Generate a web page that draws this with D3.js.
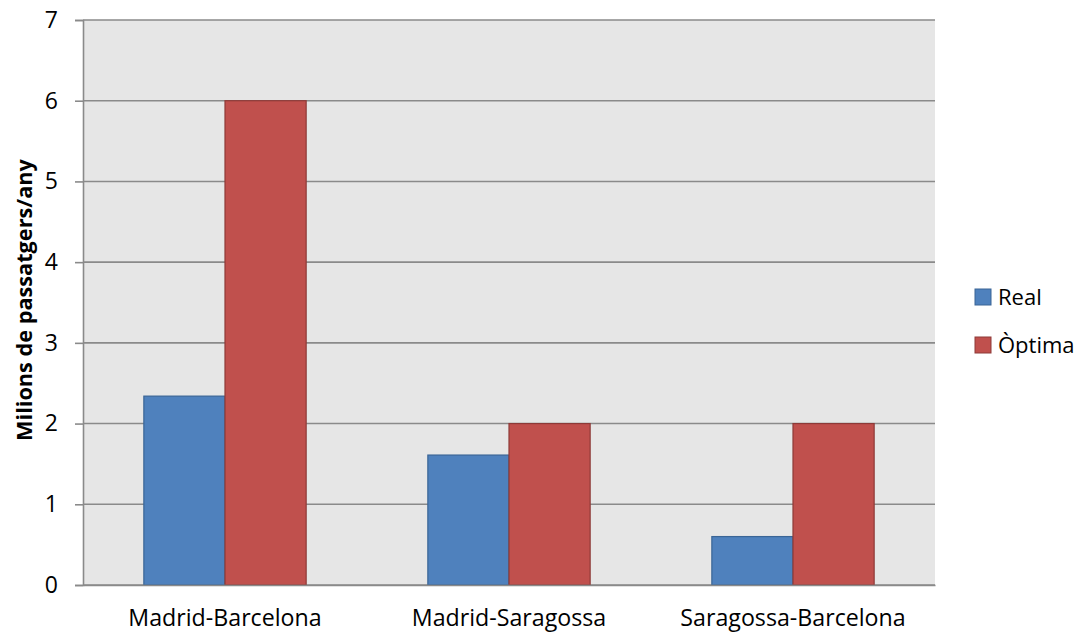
<!DOCTYPE html>
<html>
<head>
<meta charset="utf-8">
<script src="https://cdn.jsdelivr.net/npm/d3@7"></script>
<style>
  html, body { margin: 0; padding: 0; background: #ffffff; }
  svg { display: block; font-family: "Open Sans", "Liberation Sans", sans-serif; }
</style>
</head>
<body>
<svg id="chart" width="1081" height="634"></svg>
<script>
// Passenger volumes per route (millions per year)
const categories = ["Madrid-Barcelona", "Madrid-Saragossa", "Saragossa-Barcelona"];
const seriesNames = ["Real", "Òptima"];
const realValues = [2.34, 1.61, 0.6];
const optimaValues = [6, 2, 2];
const yTicks = [0, 1, 2, 3, 4, 5, 6, 7];
const yTitle = "Milions de passatgers/any";

const colors = { "Real": "#4f81bd", "Òptima": "#c0504d" };
const strokes = { "Real": "#3a6596", "Òptima": "#8e3a38" };
const FONT = "Open Sans, sans-serif";

const svg = d3.select("#chart");
const margin = { left: 83, right: 146, top: 20, bottom: 49 };
const width = 1081 - margin.left - margin.right;
const height = 634 - margin.top - margin.bottom;

const g = svg.append("g").attr("transform", `translate(${margin.left},${margin.top})`);

const x = d3.scaleBand().domain(categories).range([0, width]).paddingInner(0).paddingOuter(0);
// gap between groups is 150% of one bar width
const inner = d3.scaleBand().domain(seriesNames).range([0, x.bandwidth()]).paddingOuter(0.75).paddingInner(0);
const y = d3.scaleLinear().domain([0, 7]).range([height, 0]);

// plot background
g.append("rect").attr("x", 0).attr("y", 0).attr("width", width).attr("height", height).attr("fill", "#e6e6e6");

// horizontal gridlines
g.append("g").selectAll("line").data(yTicks).join("line")
  .attr("x1", 0).attr("x2", width)
  .attr("y1", d => y(d)).attr("y2", d => y(d))
  .attr("stroke", "#8a8a8a").attr("stroke-width", 1.6);

// bars
const data = categories.map((c, i) => ({ cat: c, values: [
  { name: "Real", value: realValues[i] },
  { name: "Òptima", value: optimaValues[i] }
]}));

const groups = g.append("g").selectAll("g").data(data).join("g")
  .attr("transform", d => `translate(${x(d.cat)},0)`);
groups.selectAll("rect").data(d => d.values).join("rect")
  .attr("x", d => inner(d.name))
  .attr("y", d => y(d.value))
  .attr("width", inner.bandwidth())
  .attr("height", d => y(0) - y(d.value))
  .attr("fill", d => colors[d.name])
  .attr("stroke", d => strokes[d.name])
  .attr("stroke-width", 1.2);

// y axis
const yAxis = d3.axisLeft(y).tickValues(yTicks).tickSize(8).tickPadding(17).tickFormat(d3.format("d"));
const ya = g.append("g").call(yAxis);
ya.select(".domain").attr("stroke", "#8a8a8a").attr("stroke-width", 1.6);
ya.selectAll(".tick line").attr("stroke", "#8a8a8a").attr("stroke-width", 1.6);
ya.selectAll(".tick text").attr("font-size", 23).attr("fill", "#000").attr("font-family", FONT);

// x axis labels
const xAxis = d3.axisBottom(x).tickSize(0).tickPadding(25);
const xa = g.append("g").attr("transform", `translate(0,${height})`).call(xAxis);
xa.select(".domain").attr("stroke", "#8a8a8a").attr("stroke-width", 1.6);
xa.selectAll(".tick text").attr("font-size", 23.2).attr("fill", "#000").attr("font-family", FONT);

// y axis title
svg.append("text")
  .attr("transform", `translate(32,300) rotate(-90)`)
  .attr("text-anchor", "middle")
  .attr("font-size", 21.7).attr("font-weight", "bold")
  .attr("font-family", FONT)
  .text(yTitle);

// legend
const legend = svg.append("g").attr("transform", "translate(975,289)");
const li = legend.selectAll("g").data(seriesNames).join("g")
  .attr("transform", (d, i) => `translate(0,${i * 48})`);
li.append("rect").attr("width", 16).attr("height", 16)
  .attr("fill", d => colors[d]).attr("stroke", d => strokes[d]).attr("stroke-width", 1);
li.append("text").attr("x", 23).attr("y", 16)
  .attr("font-size", 22).attr("font-family", FONT).text(d => d);
</script>
</body>
</html>
